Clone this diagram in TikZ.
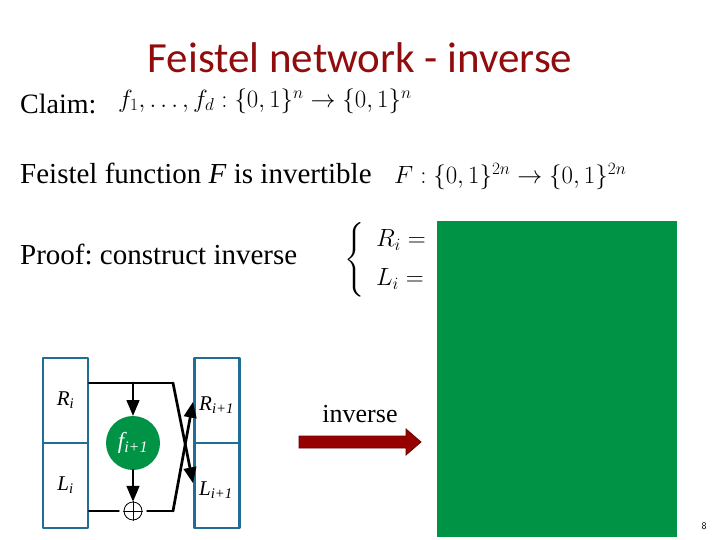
\documentclass[tikz,border=0pt]{standalone}
\usepackage{fontspec}
\usepackage{amsmath}
\setmainfont{Liberation Serif}
\newfontfamily\titlefont{Carlito}
\usetikzlibrary{arrows}
\definecolor{titlered}{RGB}{145,12,12}
\definecolor{boxblue}{RGB}{30,110,150}
\definecolor{slidegreen}{RGB}{0,146,69}
\definecolor{arrowred}{RGB}{150,0,0}
\frenchspacing
\tikzset{
  halfbox/.style={draw=boxblue, line width=2.5pt, minimum width=45, minimum height=85, inner sep=0pt},
  wire/.style={line width=2.7pt, black},
  lbl/.style={font=\itshape\fontsize{21}{21}\selectfont, inner sep=0pt},
  bodytext/.style={anchor=west, font=\fontsize{29}{29}\selectfont, inner sep=0pt}
}
\begin{document}
\begin{tikzpicture}[line cap=round,line join=round,>=triangle 45,x=1pt,y=-1pt]
\useasboundingbox (0,0) rectangle (720,540);
% title and text
\node[text=titlered, inner sep=0pt, font=\titlefont\fontsize{43}{43}\selectfont] (title) at (360,58) {Feistel network - inverse};
\node[bodytext, font=\fontsize{28}{28}\selectfont] (claim) at (20,104) {Claim:};
\node[anchor=west, font=\fontsize{24}{24}\selectfont, inner sep=0pt] (claimf) at (118,101) {$f_1,\ldots,f_d:\{0,1\}^n\rightarrow\{0,1\}^n$};
\node[bodytext] (func) at (20,173) {Feistel function \textit{F} is invertible};
\node[anchor=west, font=\fontsize{26}{26}\selectfont, inner sep=0pt] (funcf) at (394,177) {$F:\{0,1\}^{2n}\rightarrow\{0,1\}^{2n}$};
\node[bodytext] (proof) at (20,254) {Proof: construct inverse};
\node[anchor=west, font=\fontsize{27}{30}\selectfont, inner sep=0pt] (sys) at (344,260)
  {$\left\{\;\begin{array}{l} R_i = \\[9pt] L_i = \end{array}\right.$};
\fill[slidegreen] (437,221) rectangle (677,537);
% the round
\node[halfbox] (Ri) at (65.5,400.5) {};
\node[halfbox] (Li) at (65.5,485.5) {};
\node[halfbox] (Rn) at (217,400.5) {};
\node[halfbox] (Ln) at (217,485.5) {};
\node[lbl] at (Ri) {R\textsubscript{i}};
\node[lbl] at (Li) {L\textsubscript{i}};
\node[lbl, anchor=west] at (199,405) {R\textsubscript{i+1}};
\node[lbl, anchor=west] at (199,490) {L\textsubscript{i+1}};
\node[circle, fill=slidegreen, minimum size=54, inner sep=0pt, text=white,
      font=\itshape\fontsize{23}{23}\selectfont] (f) at (133,443) {f\textsubscript{i+1}};
\node[circle, draw, thick, minimum size=18, inner sep=0pt] (xor) at (133,511) {};
\draw[thick] (xor.north) -- (xor.south) (xor.west) -- (xor.east);
\coordinate (top) at (Ri.east |- 0,383);
\coordinate (bend1) at (173,383);
\coordinate (bend2) at (173,511);
\draw[wire] (top) -- (bend1);
\draw[wire,->] (bend1) -- (193,483);
\draw[wire,->] (133,383) -- (f.north);
\draw[wire,->] (f.south) -- (xor.north);
\draw[wire] (Li.east |- xor) -- ([xshift=-5pt]xor.west);
\draw[wire] ([xshift=5pt]xor.east) -- (bend2);
\draw[wire,->] (bend2) -- (193,402);
% inverse arrow
\node[font=\fontsize{26}{26}\selectfont, inner sep=0pt] (inv) at (360,414) {inverse};
\filldraw[fill=arrowred, draw=arrowred!70!black, line width=0.8pt, line join=miter]
  (299,436) -- (406,436) -- (406,429) -- (421,442) -- (406,455) -- (406,448) -- (299,448) -- cycle;
\node[font=\sffamily\fontsize{10}{10}\selectfont] (page) at (704,526) {8};
\end{tikzpicture}
\end{document}
